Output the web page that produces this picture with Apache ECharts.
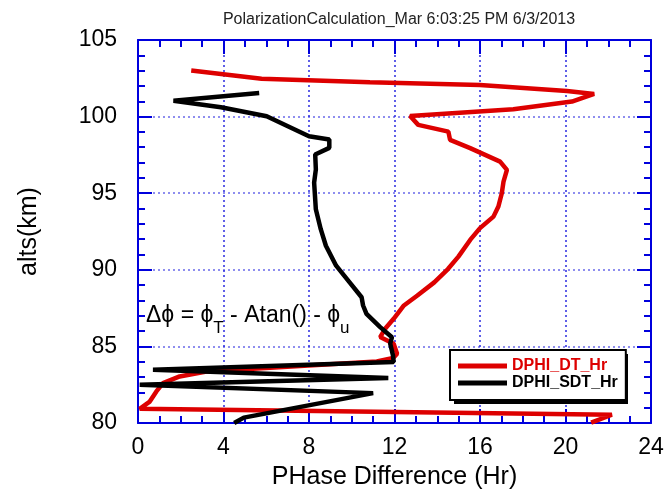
<!DOCTYPE html>
<html>
<head>
<meta charset="utf-8">
<script src="https://cdn.jsdelivr.net/npm/echarts@6/dist/echarts.min.js"></script>
<style>
  html, body { margin: 0; padding: 0; background: #fff; }
  #chart { width: 667px; height: 496px; }
</style>
</head>
<body>
<div id="chart"></div>
<script>
// Phase difference profiles versus altitude
const dtPhase = [2.49, 5.78, 10.85, 16.0, 20.07, 21.34, 20.3, 17.56, 12.73, 13.11, 14.52, 14.6, 15.54, 16.94, 17.26, 17.1, 17.02, 16.86, 16.63, 16.0, 15.54, 14.99, 14.5, 13.86, 13.07, 12.44, 11.96, 11.56, 11.33, 11.96, 12.12, 11.94, 11.17, 3.2, 1.95, 1.17, 0.86, 0.55, 0.08, 22.17, 21.2];
const dtAlt   = [103.01, 102.47, 102.24, 102.06, 101.67, 101.48, 100.98, 100.48, 100.04, 99.46, 99.02, 98.48, 97.94, 97.06, 96.52, 95.76, 95.0, 94.13, 93.47, 92.72, 91.95, 90.86, 90.05, 89.18, 88.32, 87.67, 86.8, 86.15, 85.61, 85.17, 84.52, 84.24, 84.02, 83.36, 83.04, 82.6, 82.06, 81.4, 80.93, 80.54, 80.02];

const sdtPhase = [5.67, 1.66, 3.88, 6.02, 8.0, 8.95, 8.95, 8.29, 8.32, 8.24, 8.32, 8.55, 8.79, 9.27, 9.9, 10.46, 10.53, 10.69, 11.33, 11.88, 11.8, 11.93, 11.96, 0.7, 11.71, 0.08, 11.0, 4.95, 4.5];
const sdtAlt   = [101.54, 101.04, 100.61, 100.02, 98.72, 98.5, 97.96, 97.53, 96.55, 95.69, 93.95, 92.65, 91.57, 90.27, 89.18, 88.21, 87.67, 87.12, 86.26, 85.6, 85.17, 84.41, 83.98, 83.47, 82.93, 82.5, 81.95, 80.35, 80.0];

const seriesNames = ['DPHI_DT_Hr', 'DPHI_SDT_Hr'];
const phaseRange = [0, 24, 4];   // min, max, step (Hr)
const altRange = [80, 105, 5];   // min, max, step (km)

const FONT = '"Liberation Sans", Arial, Helvetica, sans-serif';
const AXIS_BLUE = '#0000dd';
const RED = '#dd0000';

const zip = (xs, ys) => xs.map((x, i) => [x, ys[i]]);

function axisCommon(extra) {
  return Object.assign({
    type: 'value',
    axisLine: { show: true, onZero: false, lineStyle: { color: AXIS_BLUE, width: 2 } },
    axisTick: { show: true, inside: true, length: 14, lineStyle: { color: AXIS_BLUE, width: 2 } },
    splitLine: { show: false },
    minorSplitLine: { show: false }
  }, extra);
}

const chart = echarts.init(document.getElementById('chart'), null, { renderer: 'canvas' });

chart.setOption({
  animation: false,
  backgroundColor: '#ffffff',
  grid: { left: 138, top: 40, width: 513, height: 383, containLabel: false },
  xAxis: [
    axisCommon({
      position: 'bottom',
      min: phaseRange[0], max: phaseRange[1], interval: phaseRange[2],
      minorTick: { show: true, splitNumber: 4, length: 7, lineStyle: { color: AXIS_BLUE, width: 2 } },
      axisLabel: { color: '#000', fontSize: 23, fontFamily: FONT, margin: 13 },
      splitLine: { show: true, lineStyle: { color: '#2a2ae0', width: 1.5, type: [2, 3] } },
      name: 'PHase Difference (Hr)',
      nameLocation: 'middle',
      nameGap: 42,
      nameTextStyle: { color: '#000', fontSize: 25, fontFamily: FONT }
    }),
    axisCommon({
      position: 'top',
      min: phaseRange[0], max: phaseRange[1], interval: phaseRange[2],
      minorTick: { show: true, splitNumber: 4, length: 7, lineStyle: { color: AXIS_BLUE, width: 2 } },
      axisLabel: { show: false }
    })
  ],
  yAxis: [
    axisCommon({
      position: 'left',
      min: altRange[0], max: altRange[1], interval: altRange[2],
      minorTick: { show: true, splitNumber: 5, length: 7, lineStyle: { color: AXIS_BLUE, width: 2 } },
      axisLabel: { color: '#000', fontSize: 23, fontFamily: FONT, margin: 21 },
      splitLine: { show: true, lineStyle: { color: '#6a6aea', width: 1.5, type: [2, 3] } },
      name: 'alts(km)',
      nameLocation: 'middle',
      nameGap: 96,
      nameTextStyle: { color: '#000', fontSize: 25, fontFamily: FONT }
    }),
    axisCommon({
      position: 'right',
      min: altRange[0], max: altRange[1], interval: altRange[2],
      minorTick: { show: true, splitNumber: 5, length: 7, lineStyle: { color: AXIS_BLUE, width: 2 } },
      axisLabel: { show: false }
    })
  ],
  legend: {
    orient: 'vertical',
    left: 450,
    top: 350,
    padding: [8, 8, 9, 8],
    itemGap: 1,
    itemWidth: 49,
    itemHeight: 5,
    icon: 'rect',
    backgroundColor: '#ffffff',
    borderColor: '#000000',
    borderWidth: 2,
    borderRadius: 0,
    textStyle: { fontSize: 16, fontWeight: 'bold', fontFamily: FONT },
    data: [
      { name: seriesNames[0], textStyle: { color: RED } },
      { name: seriesNames[1], textStyle: { color: '#000000' } }
    ]
  },
  series: [
    {
      name: seriesNames[0],
      type: 'line',
      data: zip(dtPhase, dtAlt),
      showSymbol: false,
      symbol: 'none',
      color: RED,
      lineStyle: { color: RED, width: 4.5 },
      z: 3
    },
    {
      name: seriesNames[1],
      type: 'line',
      data: zip(sdtPhase, sdtAlt),
      showSymbol: false,
      symbol: 'none',
      color: '#000000',
      lineStyle: { color: '#000000', width: 4.5 },
      z: 4
    }
  ],
  graphic: [
    {
      // drop shadow behind the legend box
      type: 'rect',
      z: 1,
      shape: { x: 454, y: 354, width: 174, height: 50 },
      style: { fill: '#000000' }
    },
    {
      type: 'text',
      x: 399,
      y: 12,
      style: {
        text: 'PolarizationCalculation_Mar 6:03:25 PM 6/3/2013',
        fontSize: 16,
        fontFamily: FONT,
        fill: '#222',
        align: 'center',
        verticalAlign: 'top'
      }
    },
    {
      type: 'text',
      x: 146,
      y: 304,
      z: 10,
      style: {
        text: '{m|Δϕ = ϕ}{s|T}{m| - Atan() - ϕ}{s|u}',
        fontFamily: FONT,
        fill: '#000',
        verticalAlign: 'top',
        rich: {
          m: { fontSize: 23, lineHeight: 25, verticalAlign: 'top', fontFamily: FONT, fill: '#000' },
          s: { fontSize: 17, lineHeight: 33, verticalAlign: 'bottom', fontFamily: FONT, fill: '#000' }
        }
      }
    }
  ]
});
</script>
</body>
</html>
